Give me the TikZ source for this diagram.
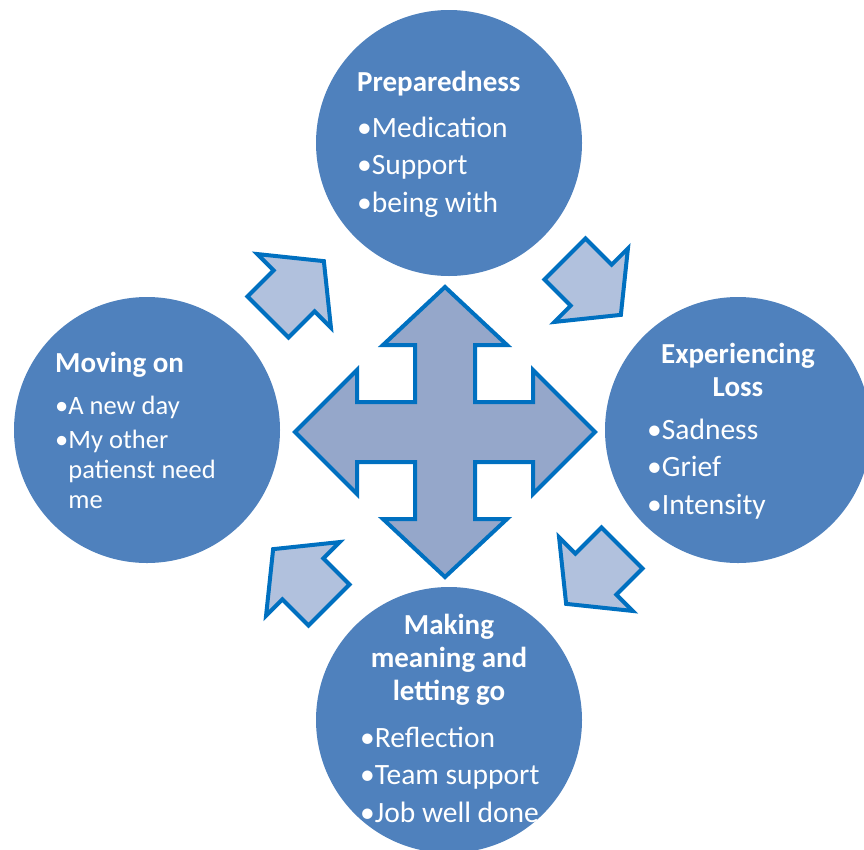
\documentclass[tikz,border=0pt]{standalone}
\usepackage{fontspec}
\setmainfont{Carlito}
\definecolor{stagefill}{HTML}{4F81BD}
\definecolor{crossfill}{HTML}{95A7CA}
\definecolor{turnfill}{HTML}{B1C1DD}
\definecolor{edgeblue}{HTML}{0070C0}
\tikzset{
  stage/.style={circle,fill=stagefill,minimum size=266pt,inner sep=0pt},
  head/.style={text=white,inner sep=0pt,font=\fontsize{29}{33}\selectfont\bfseries,align=center},
  items/.style={text=white,inner sep=0pt,font=\fontsize{29.5}{37.5}\selectfont,align=left},
  turn/.style={draw=edgeblue,fill=turnfill,line width=4pt},
  cross/.style={draw=edgeblue,fill=crossfill,line width=4pt}
}
\begin{document}
\begin{tikzpicture}[x=1pt,y=-1pt,line join=miter]
    \useasboundingbox (0,0) rectangle (864,849);
    \clip (0,0) rectangle (864,849);
    % four stages (text nodes sit on the baseline of their last line)
    \node[stage] (prep) at (449,143) {};
    \node[stage] (loss) at (738,430) {};
    \node[stage] (mean) at (449,720) {};
    \node[stage] (move) at (147,430) {};
    \node[head,anchor=base west] (prep-h) at (357,91) {Preparedness};
    \node[items,anchor=base west] (prep-i) at (357,212) {•Medication\\•Support\\•being with};
    \node[head,anchor=base] (loss-h) at (738,396) {Experiencing\\Loss};
    \node[items,anchor=base west] (loss-i) at (647,514) {•Sadness\\•Grief\\•Intensity};
    \node[head,anchor=base] (mean-h) at (449,700) {Making\\meaning and\\letting go};
    \node[items,anchor=base west] (mean-i) at (360,822) {•Reflection\\•Team support\\•Job well done};
    \node[head,anchor=base west] (move-h) at (55,372) {Moving on};
    \node[items,anchor=base west,font=\fontsize{26.5}{30}\selectfont] (move-i) at (55,508)
        {•A new day\\[4pt]•My other\\\phantom{•}patienst need\\\phantom{•}me};
    % small arrows
    \begin{scope}[shift={(565,259)},rotate=-45]
        \draw[turn] (0,-29)--(37,-29)--(37,-52)--(79,0)--(37,52)--(37,29)--(0,29)--cycle;
    \end{scope}
    \begin{scope}[shift={(622,548)},rotate=-135]
        \draw[turn] (0,-29)--(37,-29)--(37,-52)--(79,0)--(37,52)--(37,29)--(0,29)--cycle;
    \end{scope}
    \begin{scope}[shift={(329,605)},rotate=135]
        \draw[turn] (0,-29)--(37,-29)--(37,-52)--(79,0)--(37,52)--(37,29)--(0,29)--cycle;
    \end{scope}
    \begin{scope}[shift={(268,317)},rotate=45]
        \draw[turn] (0,-29)--(37,-29)--(37,-52)--(79,0)--(37,52)--(37,29)--(0,29)--cycle;
    \end{scope}
    % centre cross
    \begin{scope}[shift={(445,432)}]
        \draw[cross] (0,-145)--(62,-87)--(30,-87)--(30,-30)--(88,-30)--(88,-62)--(150,0)
            --(88,62)--(88,30)--(30,30)--(30,87)--(62,87)--(0,145)--(-62,87)--(-30,87)
            --(-30,30)--(-88,30)--(-88,62)--(-150,0)--(-88,-62)--(-88,-30)--(-30,-30)
            --(-30,-87)--(-62,-87)--cycle;
    \end{scope}
\end{tikzpicture}
\end{document}
